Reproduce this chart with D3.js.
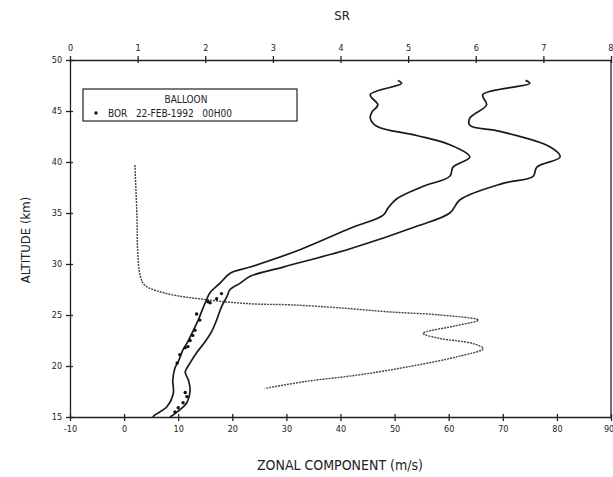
<!DOCTYPE html>
<html>
<head>
<meta charset="utf-8">
<script src="https://cdn.jsdelivr.net/npm/d3@7"></script>
<style>
  body { margin: 0; background: #fff; }
  svg text { font-family: 'Liberation Sans Narrow', 'DejaVu Sans Condensed', sans-serif; fill: #222; }
  .axis path, .axis line { stroke: #222; stroke-width: 1.3; }
</style>
</head>
<body>
<div id="chart"></div>
<script>
// zonal wind envelope, left curve (altitude km / wind m/s)
const leftAlt = [15.0, 15.2, 16.0, 17.35, 18.6, 19.8, 20.4, 21.6, 22.5, 23.5, 24.5, 25.3, 26.2, 27.2, 28.1, 29.1, 29.7, 31.4, 33.5, 34.8, 35.5, 36.4, 37.6, 38.6, 39.5, 40.5, 41.7, 42.6, 43.5, 44.3, 44.9, 45.6, 46.6, 47.7, 48.0];
const leftWind = [5.3, 5.7, 7.9, 9.1, 9.0, 9.4, 10.0, 10.9, 11.9, 12.8, 13.7, 14.3, 15.0, 15.9, 17.7, 19.6, 23.3, 32.5, 41.8, 47.9, 48.8, 50.4, 55.2, 60.2, 60.8, 63.9, 60.2, 54.1, 46.7, 45.5, 45.8, 46.9, 45.5, 51.3, 50.6];

// zonal wind envelope, right curve
const rightAlt = [15.0, 15.7, 16.4, 17.6, 18.6, 19.4, 20.3, 21.3, 22.4, 23.4, 24.5, 25.8, 26.8, 27.5, 28.1, 28.8, 29.7, 31.5, 33.7, 35.0, 36.3, 37.9, 38.6, 39.5, 40.5, 41.5, 43.0, 43.6, 44.3, 45.6, 46.6, 47.7, 48.0];
const rightWind = [8.5, 10.3, 11.6, 12.2, 11.9, 11.3, 12.2, 13.4, 15.0, 16.2, 17.1, 18.0, 19.0, 19.6, 21.4, 23.3, 29.4, 41.8, 54.1, 60.2, 62.1, 70.0, 75.6, 76.3, 80.6, 78.7, 69.5, 63.9, 63.9, 67.0, 66.3, 75.0, 74.2];

// balloon BOR 22-FEB-1992 00H00
const balloonAlt = [27.1, 26.6, 26.3, 26.2, 25.1, 24.5, 23.5, 23.0, 22.5, 21.9, 21.8, 21.1, 20.3, 17.4, 17.0, 16.4, 15.9, 15.5];
const balloonWind = [18.0, 17.1, 15.5, 15.9, 13.4, 14.0, 13.1, 12.7, 12.2, 11.8, 11.3, 10.3, 9.8, 11.3, 11.6, 10.9, 10.0, 9.4];

// SR profile (top axis)
const srAlt = [39.7, 34.6, 31.4, 28.8, 27.9, 27.1, 26.5, 26.1, 26.0, 25.7, 25.3, 25.0, 24.5, 23.9, 23.2, 22.7, 22.2, 21.7, 20.9, 19.9, 19.1, 18.5, 17.8];
const srValue = [0.96, 0.99, 1.0, 1.04, 1.11, 1.43, 2.02, 2.66, 3.25, 3.99, 4.73, 5.47, 6.04, 5.67, 5.22, 5.47, 5.96, 6.11, 5.72, 4.98, 4.24, 3.5, 2.88];

const windTicks = [-10, 0, 10, 20, 30, 40, 50, 60, 70, 80, 90];
const srTicks = [0, 1, 2, 3, 4, 5, 6, 7, 8];
const altTicks = [15, 20, 25, 30, 35, 40, 45, 50];

const margin = { top: 60, right: 2, bottom: 60, left: 70 };
const fullWidth = 613;
const fullHeight = 477;
const width = fullWidth - margin.left - margin.right;
const height = fullHeight - margin.top - margin.bottom;

const svg = d3.select('#chart').append('svg')
  .attr('width', fullWidth)
  .attr('height', fullHeight);

const chart = svg.append('g')
  .attr('transform', `translate(${margin.left}, ${margin.top})`);

const xScale = d3.scaleLinear().domain([-10, 90]).range([0, width]);
const srScale = d3.scaleLinear().domain([0, 8]).range([0, width]);
const yScale = d3.scaleLinear().domain([15, 50]).range([height, 0]);

// axes, ticks cross the frame a little
const xAxis = chart.append('g')
  .attr('class', 'axis')
  .attr('transform', `translate(0, ${height})`)
  .call(d3.axisBottom(xScale).tickValues(windTicks).tickFormat(d => String(d)).tickSizeInner(4).tickSizeOuter(0));
xAxis.selectAll('.tick line').attr('y1', -3);

const topAxis = chart.append('g')
  .attr('class', 'axis')
  .call(d3.axisTop(srScale).tickValues(srTicks).tickFormat(d => String(d)).tickSizeInner(4).tickSizeOuter(0));
topAxis.selectAll('.tick line').attr('y1', 3);

const yAxis = chart.append('g')
  .attr('class', 'axis')
  .call(d3.axisLeft(yScale).tickValues(altTicks).tickSizeInner(4).tickSizeOuter(0));
yAxis.selectAll('.tick line').attr('x1', 3);

chart.append('line')
  .attr('x1', width).attr('x2', width)
  .attr('y1', 0).attr('y2', height)
  .attr('stroke', '#222').attr('stroke-width', 1.3);

svg.selectAll('.axis text').style('font-size', '9px');
xAxis.selectAll('text').attr('dy', '0.9em');
topAxis.selectAll('text').attr('dy', '-0.2em');
yAxis.selectAll('text').attr('dx', '-0.1em');

// last labels sit on the page edge, keep them inside
xAxis.selectAll('.tick text').filter(d => d === 90).attr('text-anchor', 'end').attr('dx', '0.3em');
topAxis.selectAll('.tick text').filter(d => d === 8).attr('text-anchor', 'end').attr('dx', '0.2em');

// axis titles
svg.append('text')
  .attr('x', 342).attr('y', 20)
  .attr('text-anchor', 'middle')
  .style('font-size', '13px')
  .text('SR');

svg.append('text')
  .attr('x', 340).attr('y', 470)
  .attr('text-anchor', 'middle')
  .style('font-size', '14px')
  .text('ZONAL COMPONENT (m/s)');

svg.append('text')
  .attr('transform', 'translate(30, 240) rotate(-90)')
  .attr('text-anchor', 'middle')
  .style('font-size', '13px')
  .text('ALTITUDE (km)');

// curves
const windLine = d3.line()
  .x(d => xScale(d[1]))
  .y(d => yScale(d[0]))
  .curve(d3.curveCatmullRom);

chart.append('path')
  .datum(d3.zip(leftAlt, leftWind))
  .attr('d', windLine)
  .attr('fill', 'none')
  .attr('stroke', '#1a1a1a')
  .attr('stroke-width', 1.7);

chart.append('path')
  .datum(d3.zip(rightAlt, rightWind))
  .attr('d', windLine)
  .attr('fill', 'none')
  .attr('stroke', '#1a1a1a')
  .attr('stroke-width', 1.7);

const srLine = d3.line()
  .x(d => srScale(d[1]))
  .y(d => yScale(d[0]))
  .curve(d3.curveCatmullRom);

chart.append('path')
  .datum(d3.zip(srAlt, srValue))
  .attr('d', srLine)
  .attr('fill', 'none')
  .attr('stroke', '#444')
  .attr('stroke-width', 1.4)
  .attr('stroke-dasharray', '2,1');

chart.selectAll('.balloon')
  .data(d3.zip(balloonAlt, balloonWind))
  .enter()
  .append('circle')
  .attr('class', 'balloon')
  .attr('cx', d => xScale(d[1]))
  .attr('cy', d => yScale(d[0]))
  .attr('r', 1.7)
  .attr('fill', '#111');

// legend
const legend = svg.append('g');
legend.append('rect')
  .attr('x', 83).attr('y', 89)
  .attr('width', 214).attr('height', 32)
  .attr('fill', '#fff')
  .attr('stroke', '#222')
  .attr('stroke-width', 1.2);
legend.append('text')
  .attr('x', 186).attr('y', 103)
  .attr('text-anchor', 'middle')
  .style('font-size', '10px')
  .text('BALLOON');
legend.append('circle')
  .attr('cx', 96).attr('cy', 113)
  .attr('r', 1.7)
  .attr('fill', '#111');
legend.append('text')
  .attr('x', 108).attr('y', 117)
  .style('font-size', '10px')
  .attr('xml:space', 'preserve')
  .text('BOR   22-FEB-1992   00H00');
</script>
</body>
</html>
